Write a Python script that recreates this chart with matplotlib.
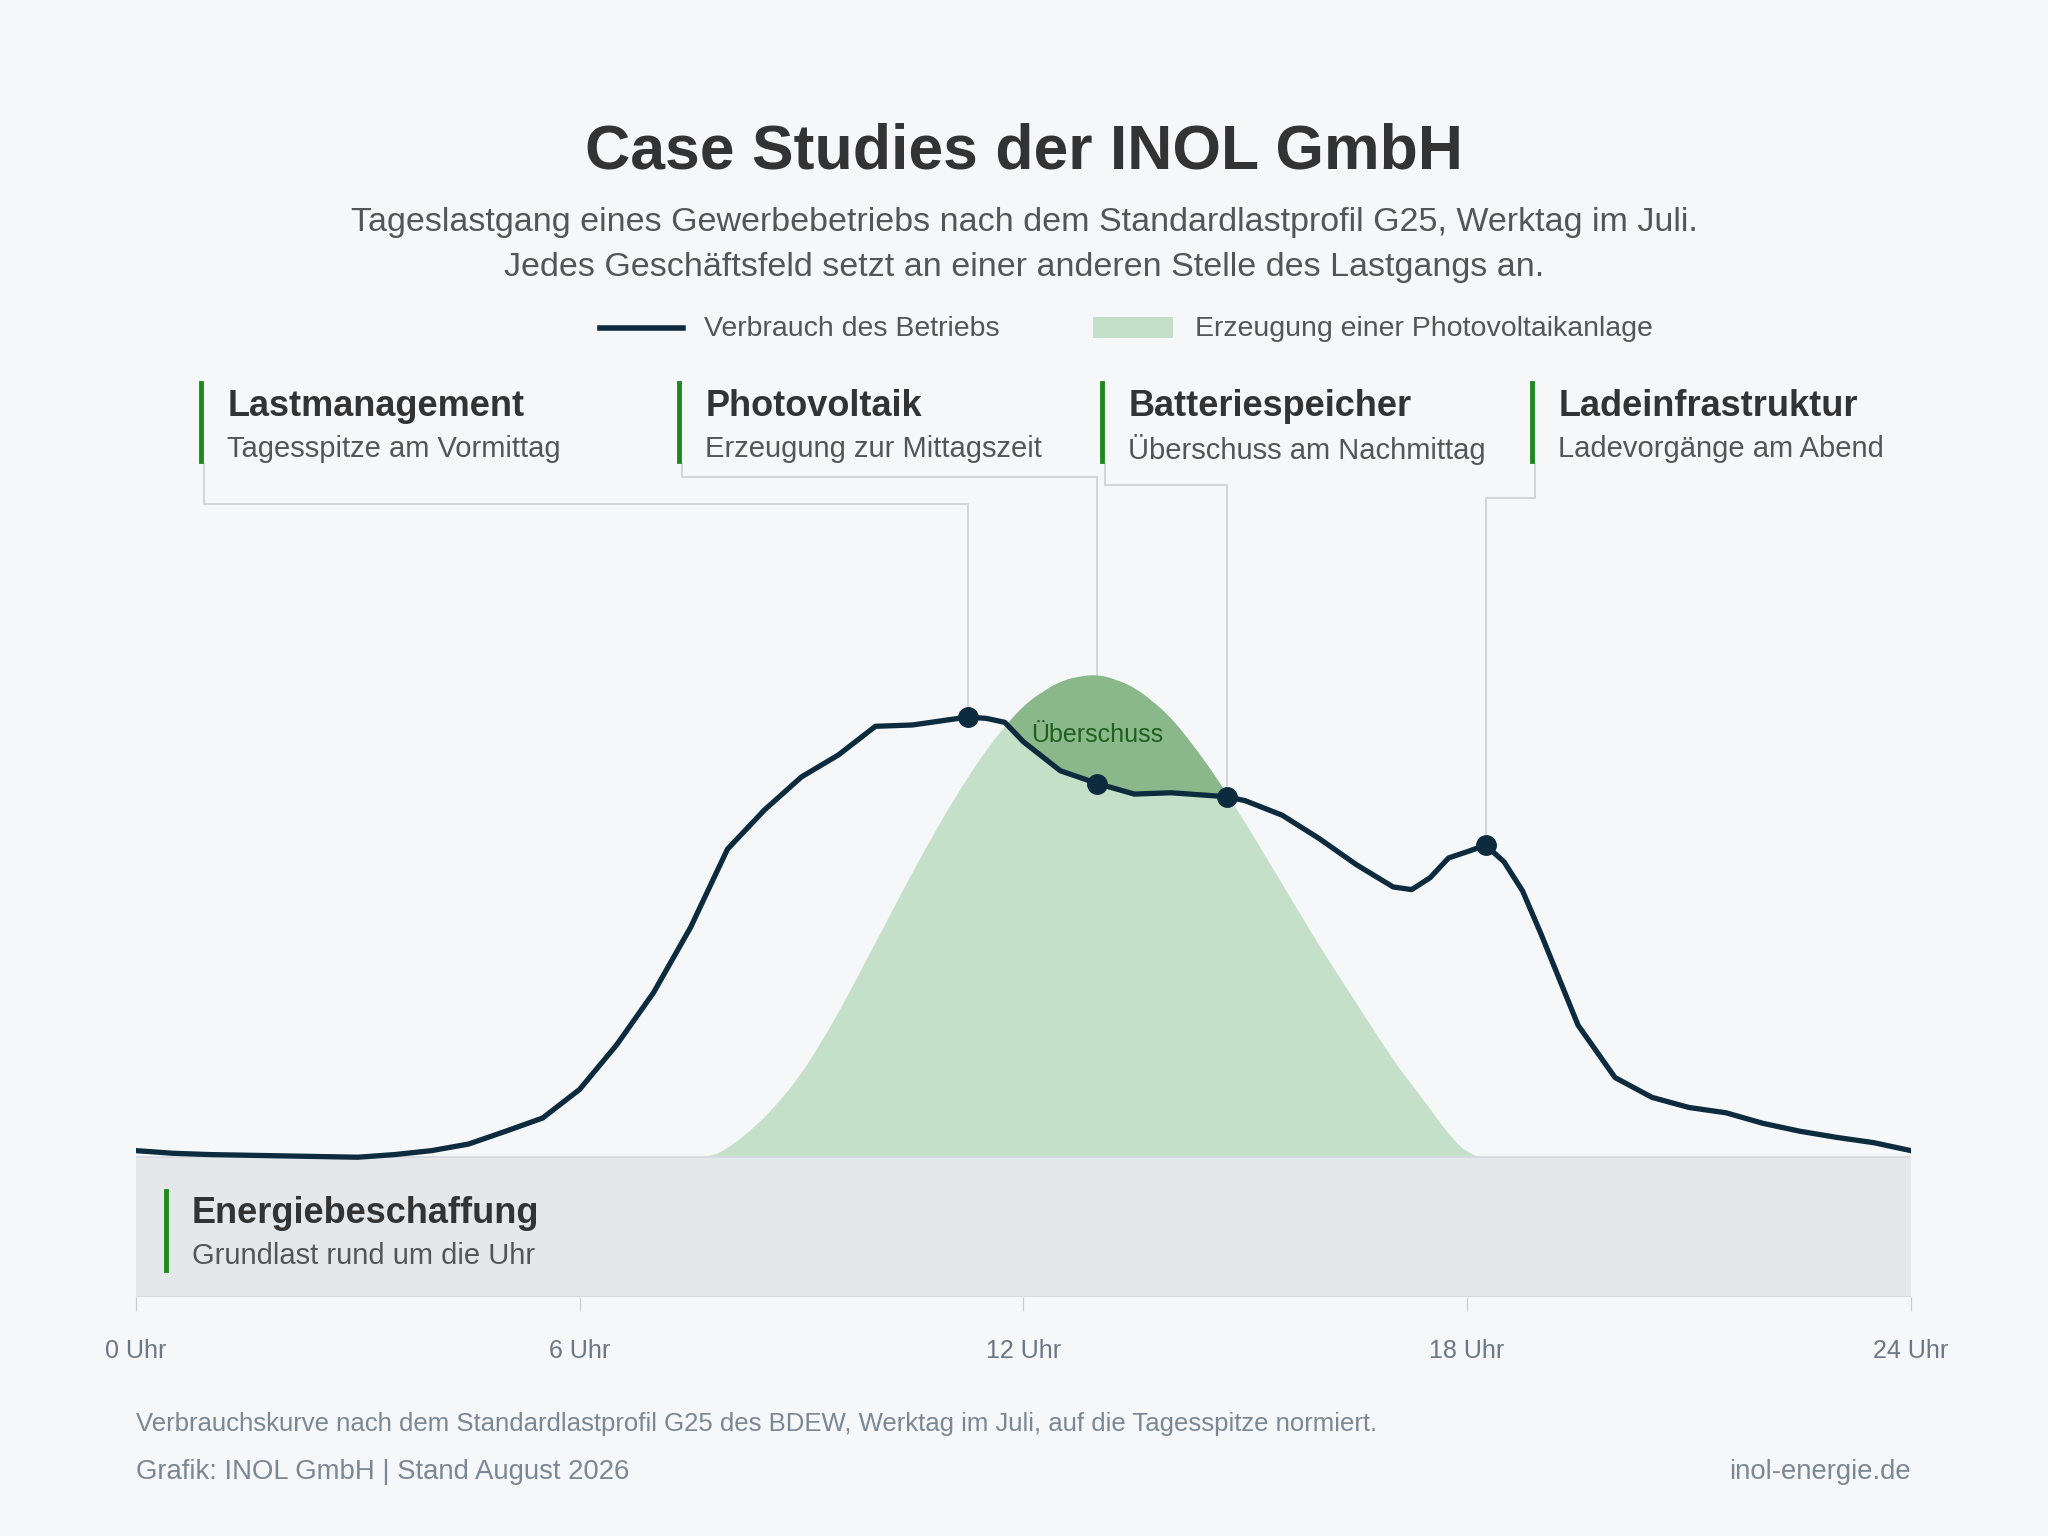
import matplotlib.pyplot as plt
import numpy as np
from matplotlib.patches import Rectangle
from matplotlib.lines import Line2D

# load curve (hours, normalised to daily peak)
load_h = [0, 0.5, 1, 2, 3, 3.5, 4, 4.5, 5, 5.5, 6, 6.5, 7, 7.5, 8, 8.5, 9, 9.5, 10, 10.5,
          11, 11.25, 11.5, 11.75, 12, 12.5, 13, 13.5, 14, 14.5, 14.75, 15, 15.5, 16, 16.5,
          17, 17.25, 17.5, 17.75, 18, 18.25, 18.5, 18.75, 19, 19.5, 20, 20.5, 21, 21.5,
          22, 22.5, 23, 23.5, 24]
load_v = [0.015, 0.009, 0.006, 0.003, 0.0, 0.006, 0.015, 0.030, 0.059, 0.089, 0.154,
          0.255, 0.374, 0.522, 0.700, 0.789, 0.864, 0.914, 0.979, 0.982, 0.994, 1.0,
          0.997, 0.988, 0.944, 0.878, 0.849, 0.825, 0.828, 0.822, 0.819, 0.810, 0.777,
          0.724, 0.665, 0.614, 0.608, 0.635, 0.680, 0.694, 0.709, 0.671, 0.605, 0.507,
          0.300, 0.181, 0.136, 0.113, 0.101, 0.077, 0.059, 0.045, 0.033, 0.015]

# PV generation (same scale)
pv_h = [7.75, 8, 8.5, 9, 9.5, 10, 10.5, 11, 11.5, 12, 12.5, 13, 13.5, 14, 14.5, 15,
        15.5, 16, 16.5, 17, 17.5, 17.75, 18, 18.05]
pv_v = [0.0, 0.02, 0.09, 0.19, 0.33, 0.49, 0.65, 0.80, 0.93, 1.03, 1.085, 1.10, 1.07,
        1.00, 0.89, 0.76, 0.62, 0.48, 0.35, 0.22, 0.11, 0.05, 0.01, 0.0]

ticks = [0, 6, 12, 18, 24]
tick_labels = ["0 Uhr", "6 Uhr", "12 Uhr", "18 Uhr", "24 Uhr"]

cards = [("Lastmanagement", "Tagesspitze am Vormittag", 154, 11.25, 386),
         ("Photovoltaik", "Erzeugung zur Mittagszeit", 520, 13.0, 365),
         ("Batteriespeicher", "Überschuss am Nachmittag", 844, 14.75, 371),
         ("Ladeinfrastruktur", "Ladevorgänge am Abend", 1173, 18.25, 381)]

BG = "#f5f7f9"
DARK = "#0d2b3e"
GREEN = "#1e8a1e"
TXT = "#333333"
plt.rcParams['font.family'] = ['Liberation Sans', 'DejaVu Sans']

W, H = 1568, 1176
def fx(x): return x / W
def fy(y): return 1 - y / H

fig = plt.figure(figsize=(20.48, 15.36), dpi=100, facecolor=BG)
unit = 337.0
ax = fig.add_axes([fx(104), fy(993), fx(1463) - fx(104), (993 - 380) / H])
ax.patch.set_visible(False)
ax.set_xlim(0, 24)
ax.set_ylim(-107 / unit, (886 - 380) / unit)
for s in ax.spines.values():
    s.set_visible(False)
ax.set_yticks([])

xs = np.linspace(0, 24, 2401)
ld = np.interp(xs, load_h, load_v)
pv = np.interp(xs, pv_h, pv_v, left=0, right=0)
k = np.ones(41) / 41
pv = np.convolve(pv, k, mode="same")
ax.fill_between(xs, 0, pv, color="#c4e0c8", lw=0)
ax.fill_between(xs, ld, pv, where=pv > ld, color="#8ab88a", lw=0, interpolate=True)
ax.add_patch(Rectangle((0, -107 / unit), 24, 107 / unit, facecolor="#e5e8eb",
                       edgecolor="none"))
ax.axhline(0, color="#d5d9de", lw=1.2)
ax.axhline(-107 / unit, color="#d5d9de", lw=1.2)
ax.plot(load_h, load_v, color=DARK, lw=3.8, solid_joinstyle='round', zorder=4)
ax.text(13.0, 0.96, "Überschuss", color="#1f5f1f", fontsize=18, ha="center", va="center")

ax.set_xticks(ticks)
ax.set_xticklabels(tick_labels, color="#6b7785", fontsize=18)
ax.tick_params(axis='x', length=10, color="#c8cdd3", pad=20)

# callout cards and connectors
for title, sub, bx, hr, yj in cards:
    fig.add_artist(Line2D([fx(bx), fx(bx)], [fy(293), fy(353)], color=GREEN, lw=3.5))
    fig.text(fx(bx + 20), fy(311), title, fontsize=26, weight="bold", color=TXT, va="center")
    fig.text(fx(bx + 20), fy(344), sub, fontsize=21, color="#555555", va="center")
    val = np.interp(hr, load_h, load_v)
    px, py = fig.transFigure.inverted().transform(ax.transData.transform((hr, val)))
    sx = fx(bx + 2)
    fig.add_artist(Line2D([sx, sx, px, px], [fy(355), fy(yj), fy(yj), py],
                          color="#cfd3d8", lw=1.3, zorder=-1))
    ax.plot([hr], [val], "o", color=DARK, ms=14, zorder=6)

# bottom card
fig.add_artist(Line2D([fx(127), fx(127)], [fy(912), fy(972)], color=GREEN, lw=3.5))
fig.text(fx(147), fy(929), "Energiebeschaffung", fontsize=26, weight="bold", color=TXT, va="center")
fig.text(fx(147), fy(962), "Grundlast rund um die Uhr", fontsize=21, color="#555555", va="center")

# titles
fig.text(0.5, fy(116), "Case Studies der INOL GmbH", fontsize=45, weight="bold",
         color=TXT, ha="center", va="center")
fig.text(0.5, fy(170), "Tageslastgang eines Gewerbebetriebs nach dem Standardlastprofil G25, Werktag im Juli.",
         fontsize=24.5, color="#555555", ha="center", va="center")
fig.text(0.5, fy(205), "Jedes Geschäftsfeld setzt an einer anderen Stelle des Lastgangs an.",
         fontsize=24.5, color="#555555", ha="center", va="center")

# legend
fig.add_artist(Line2D([fx(459), fx(523)], [fy(251), fy(251)], color=DARK, lw=4))
fig.text(fx(539), fy(252), "Verbrauch des Betriebs", fontsize=20.5, color="#555555", va="center")
fig.add_artist(Rectangle((fx(837), fy(259)), fx(898) - fx(837), 16 / H,
                         facecolor="#c4e0c8", edgecolor="none", transform=fig.transFigure))
fig.text(fx(915), fy(252), "Erzeugung einer Photovoltaikanlage", fontsize=20.5, color="#555555", va="center")

# footer
fig.text(fx(104), fy(1090), "Verbrauchskurve nach dem Standardlastprofil G25 des BDEW, Werktag im Juli, auf die Tagesspitze normiert.",
         fontsize=18.5, color="#7a8794", va="center")
fig.text(fx(104), fy(1127), "Grafik: INOL GmbH | Stand August 2026", fontsize=19.8, color="#7a8794", va="center")
fig.text(fx(1463), fy(1127), "inol-energie.de", fontsize=19.8, color="#7a8794", va="center", ha="right")

fig.savefig("out.png", dpi=100, facecolor=BG)
